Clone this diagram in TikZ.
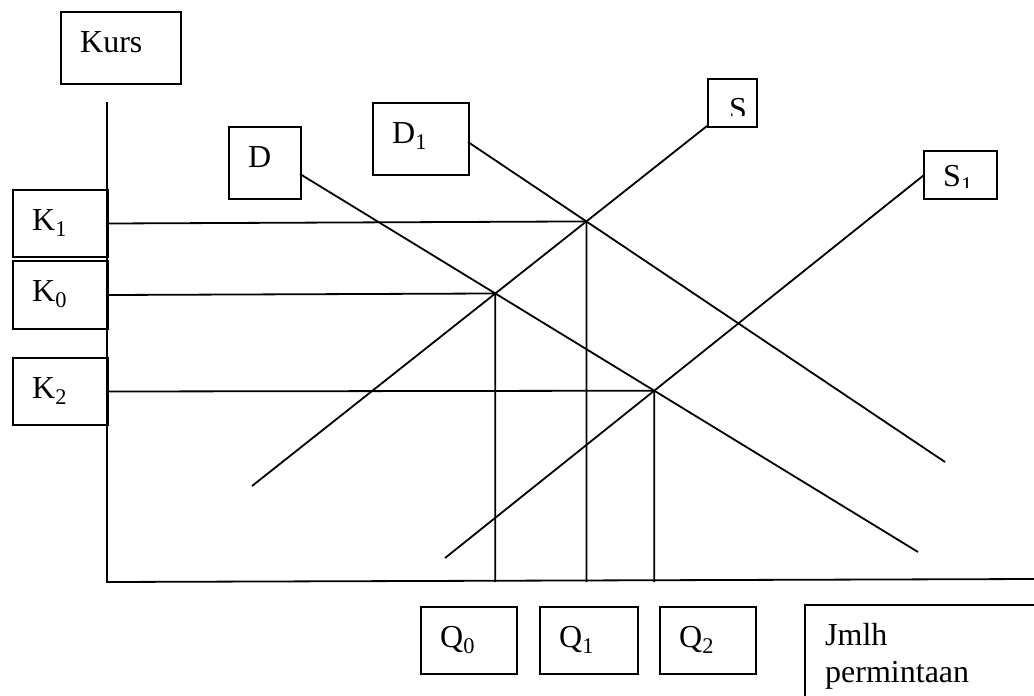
\documentclass[tikz,border=0pt]{standalone}
\usepackage{fontspec}
\setmainfont{Liberation Serif}
\begin{document}
\begin{tikzpicture}[x=1pt,y=-1pt,
  box/.style={draw,line width=2pt,rectangle,inner sep=0pt,anchor=north west},
  lbl/.style={anchor=base west,inner sep=0pt,font=\fontsize{32}{37}\selectfont},
  ln/.style={line width=1.8pt}]
\clip (0,0) rectangle (1034,696);
\fill[white] (0,0) rectangle (1034,696);
% boxes
\node[box,minimum width=120pt,minimum height=72pt] (kursbox) at (60,11) {};
\node[box,minimum width=95pt,minimum height=67pt] (k1box) at (12,189) {};
\node[box,minimum width=95pt,minimum height=68pt] (k0box) at (12,260) {};
\node[box,minimum width=95pt,minimum height=67pt] (k2box) at (12,357) {};
\node[box,minimum width=72pt,minimum height=72pt] (dbox) at (228,126) {};
\node[box,minimum width=96pt,minimum height=72pt] (d1box) at (372,102) {};
\node[box,minimum width=49pt,minimum height=48pt] (sbox) at (707,78) {};
\node[box,minimum width=73pt,minimum height=48pt] (s1box) at (923,150) {};
\node[box,minimum width=96pt,minimum height=67pt] (q0box) at (420,606) {};
\node[box,minimum width=98pt,minimum height=67pt] (q1box) at (539,606) {};
\node[box,minimum width=96pt,minimum height=67pt] (q2box) at (659,606) {};
\node[box,minimum width=250pt,minimum height=110pt] (jbox) at (804,604) {};
% labels
\node[lbl] (kurs) at ([shift={(20pt,-41pt)}]kursbox.north west) {Kurs};
\node[lbl] (k1) at ([shift={(20pt,-41pt)}]k1box.north west) {K\textsubscript{1}};
\node[lbl] (k0) at ([shift={(20pt,-41pt)}]k0box.north west) {K\textsubscript{0}};
\node[lbl] (k2) at ([shift={(20pt,-41pt)}]k2box.north west) {K\textsubscript{2}};
\node[lbl] (d) at ([shift={(20pt,-41pt)}]dbox.north west) {D};
\node[lbl] (d1) at ([shift={(20pt,-41pt)}]d1box.north west) {D\textsubscript{1}};
\begin{scope}
\clip (707,78) rectangle (756,115);
\node[lbl] (s) at ([shift={(22pt,-41pt)}]sbox.north west) {S};
\end{scope}
\begin{scope}
\clip (923,150) rectangle (996,187);
\node[lbl] (s1) at ([shift={(20pt,-36pt)}]s1box.north west) {S\textsubscript{1}};
\end{scope}
\node[lbl] (q0) at ([shift={(20pt,-41pt)}]q0box.north west) {Q\textsubscript{0}};
\node[lbl] (q1) at ([shift={(20pt,-41pt)}]q1box.north west) {Q\textsubscript{1}};
\node[lbl] (q2) at ([shift={(20pt,-41pt)}]q2box.north west) {Q\textsubscript{2}};
\node[lbl,anchor=north west,align=left] (jmlh) at (825,623) {Jmlh\\permintaan};
% axes
\coordinate (ytop) at (107,102);
\coordinate (O) at (107,582);
\coordinate (xend) at (1034,579);
\draw[ln] (ytop) -- (O) -- (xend);
% curves
\coordinate (dstart) at (300,174);
\coordinate (dend) at (918,552);
\coordinate (d1start) at (468,142);
\coordinate (d1end) at (945,462);
\coordinate (sstart) at (707,126);
\coordinate (send) at (252,486);
\coordinate (s1start) at (924,175);
\coordinate (s1end) at (445,558);
\draw[ln] (dstart) -- (dend);
\draw[ln] (d1start) -- (d1end);
\draw[ln] (sstart) -- (send);
\draw[ln] (s1start) -- (s1end);
% equilibria
\coordinate (E1) at (intersection of sstart--send and d1start--d1end);
\coordinate (E0) at (intersection of sstart--send and dstart--dend);
\coordinate (E2) at (intersection of s1start--s1end and dstart--dend);
\draw[ln] (k1box.east) -- (E1) -- (E1 |- O);
\draw[ln] (k0box.east) -- (E0) -- (E0 |- O);
\draw[ln] (k2box.east) -- (E2) -- (E2 |- O);
\end{tikzpicture}
\end{document}
